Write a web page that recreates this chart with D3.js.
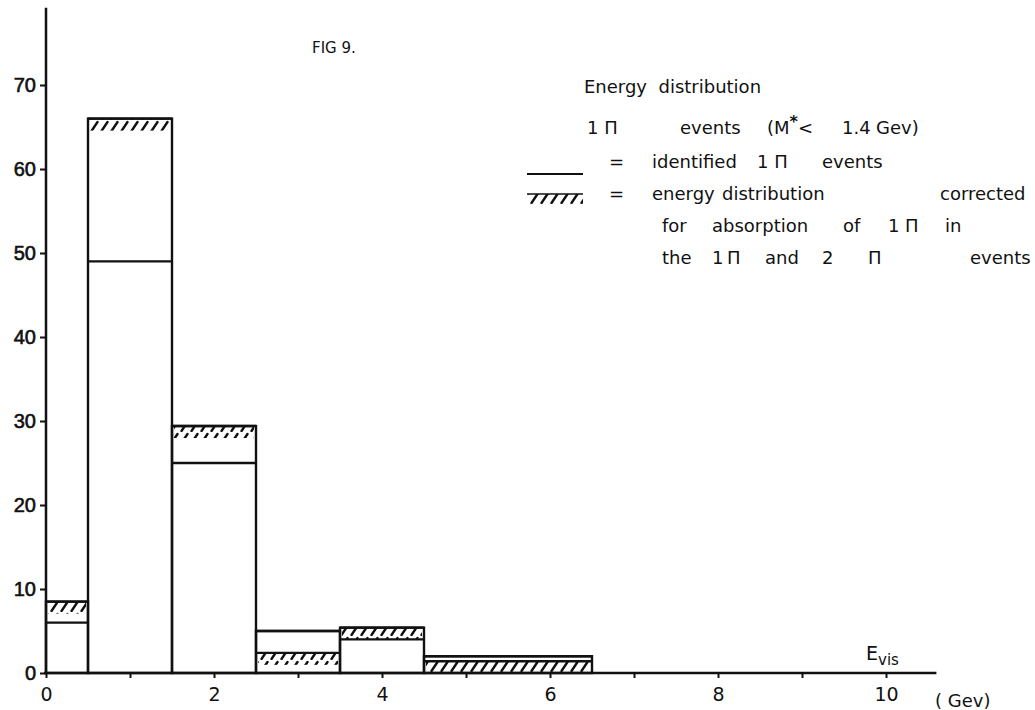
<!DOCTYPE html>
<html>
<head>
<meta charset="utf-8">
<script src="https://cdn.jsdelivr.net/npm/d3@7"></script>
<style>
  body { margin: 0; background: #fff; }
  svg text { font-family: "DejaVu Sans", "Liberation Sans", sans-serif; fill: #111; white-space: pre; }
</style>
</head>
<body>
<div id="chart-container"></div>
<script>
const width = 1035;
const height = 710;

// Histogram data (bin edges in Gev, counts)
const binEdges = [0, 0.5, 1.5, 2.5, 3.5, 4.5, 6.5];
const identified = [6, 49, 25, 5, 4, 2];
const corrected = [8.5, 66, 29.4, 2.4, 5.4, 1.4];

// Axis ticks
const yTicks = [0, 10, 20, 30, 40, 50, 60, 70];
const xTicks = [0, 1, 2, 3, 4, 5, 6, 7, 8, 9, 10];
const xLabels = [0, 2, 4, 6, 8, 10];

var svg = d3.select("#chart-container")
    .append("svg")
    .attr("width", width)
    .attr("height", height);

var xScale = d3.scaleLinear().domain([0, 10]).range([46, 886]);
var yScale = d3.scaleLinear().domain([0, 70]).range([673, 85]);

// Hatch pattern
var defs = svg.append("defs");
defs.append("pattern")
    .attr("id", "hatch")
    .attr("patternUnits", "userSpaceOnUse")
    .attr("width", 10)
    .attr("height", 12)
    .append("path")
    .attr("d", "M1.5,11 L7.5,2")
    .attr("stroke", "#111")
    .attr("stroke-width", 2.4)
    .attr("stroke-linecap", "round");

// Axis lines
svg.append("line")
    .attr("x1", xScale(0)).attr("x2", xScale(0))
    .attr("y1", yScale(0)).attr("y2", yScale(79.2))
    .attr("stroke", "#111").attr("stroke-width", 2.5);

svg.append("line")
    .attr("x1", xScale(0) - 2).attr("x2", xScale(10.6))
    .attr("y1", yScale(0)).attr("y2", yScale(0))
    .attr("stroke", "#111").attr("stroke-width", 2.5);

// y ticks and labels
var yAxis = svg.append("g")
    .attr("transform", `translate(${xScale(0)},0)`)
    .call(d3.axisLeft(yScale).tickValues(yTicks).tickSize(6).tickPadding(4).tickFormat(d3.format("d")));
yAxis.select(".domain").remove();
yAxis.selectAll(".tick line").attr("stroke", "#111").attr("stroke-width", 2);
yAxis.selectAll(".tick text")
    .style("font-family", "'Liberation Sans', sans-serif")
    .style("font-size", "20px")
    .attr("fill", "#111")
    .attr("stroke", "#111")
    .attr("stroke-width", 0.6);

// x ticks and labels
var xAxis = svg.append("g")
    .attr("transform", `translate(0,${yScale(0)})`)
    .call(d3.axisBottom(xScale).tickValues(xTicks).tickSize(5).tickPadding(10)
        .tickFormat(d => xLabels.includes(d) ? d : ""));
xAxis.select(".domain").remove();
xAxis.selectAll(".tick line").attr("stroke", "#111").attr("stroke-width", 2);
xAxis.selectAll(".tick text")
    .style("font-family", "'DejaVu Sans', sans-serif")
    .style("font-size", "19px")
    .attr("fill", "#111");

svg.append("text")
    .attr("x", 935).attr("y", 707)
    .style("font-size", "18px")
    .text("( Gev)");

// E_vis label
var evis = svg.append("text")
    .attr("x", 866).attr("y", 660)
    .style("font-size", "19px");
evis.append("tspan").text("E");
evis.append("tspan").attr("dy", 5).style("font-size", "15px").text("vis");

// Histogram bins
var bins = binEdges.slice(0, -1).map((e, i) => ({
    x0: e, x1: binEdges[i + 1], ident: identified[i], corr: corrected[i]
}));

var hist = svg.append("g");

// outline of each bin up to the higher of the two values
hist.selectAll(".bin-outline")
    .data(bins)
    .enter().append("rect")
    .attr("class", "bin-outline")
    .attr("x", d => xScale(d.x0))
    .attr("y", d => yScale(Math.max(d.ident, d.corr)))
    .attr("width", d => xScale(d.x1) - xScale(d.x0))
    .attr("height", d => yScale(0) - yScale(Math.max(d.ident, d.corr)))
    .attr("fill", "none")
    .attr("stroke", "#111")
    .attr("stroke-width", 2.4);

// identified line
hist.selectAll(".ident-line")
    .data(bins)
    .enter().append("line")
    .attr("class", "ident-line")
    .attr("x1", d => xScale(d.x0)).attr("x2", d => xScale(d.x1))
    .attr("y1", d => yScale(d.ident)).attr("y2", d => yScale(d.ident))
    .attr("stroke", "#111").attr("stroke-width", 2.4);

// corrected line with hatch band below
hist.selectAll(".corr-band")
    .data(bins)
    .enter().append("rect")
    .attr("class", "corr-band")
    .attr("x", d => xScale(d.x0) + 2)
    .attr("y", d => yScale(d.corr))
    .attr("width", d => xScale(d.x1) - xScale(d.x0) - 4)
    .attr("height", d => Math.min(12, yScale(0) - yScale(d.corr) - 1))
    .attr("fill", "url(#hatch)");

hist.selectAll(".corr-line")
    .data(bins)
    .enter().append("line")
    .attr("class", "corr-line")
    .attr("x1", d => xScale(d.x0)).attr("x2", d => xScale(d.x1))
    .attr("y1", d => yScale(d.corr)).attr("y2", d => yScale(d.corr))
    .attr("stroke", "#111").attr("stroke-width", 2.4);

// Title and legend
svg.append("text")
    .attr("x", 312).attr("y", 53)
    .style("font-size", "15px")
    .text("FIG 9.");

svg.append("text")
    .attr("x", 584).attr("y", 93)
    .style("font-size", "18px")
    .text("Energy  distribution");

function words(list, y) {
    list.forEach(w => {
        svg.append("text")
            .attr("x", w[1]).attr("y", y)
            .style("font-size", "18px")
            .text(w[0]);
    });
}

words([["1 Π", 587], ["events", 680], ["1.4", 842], ["Gev)", 876]], 134);
var mlab = svg.append("text").attr("x", 767).attr("y", 134).style("font-size", "18px");
mlab.append("tspan").text("(M");
mlab.append("tspan").attr("dy", -7).style("font-size", "16px").style("font-weight", "bold").text("*");
mlab.append("tspan").attr("dy", 7).text("<");

// legend: solid line
svg.append("line")
    .attr("x1", 527).attr("x2", 583).attr("y1", 174).attr("y2", 174)
    .attr("stroke", "#111").attr("stroke-width", 2);
words([["=", 609], ["identified", 652], ["1 Π", 757], ["events", 822]], 168);

// legend: hatch symbol
svg.append("rect")
    .attr("x", 528).attr("y", 194).attr("width", 55).attr("height", 10)
    .attr("fill", "url(#hatch)");
svg.append("line")
    .attr("x1", 527).attr("x2", 583).attr("y1", 194).attr("y2", 194)
    .attr("stroke", "#111").attr("stroke-width", 1.5);
words([["=", 609], ["energy", 652], ["distribution", 722], ["corrected", 940]], 200);
words([["for", 662], ["absorption", 712], ["of", 843], ["1", 888], ["Π", 905], ["in", 945]], 232);
words([["the", 662], ["1", 712], ["Π", 727], ["and", 765], ["2", 822], ["Π", 868], ["events", 970]], 264);
</script>
</body>
</html>
